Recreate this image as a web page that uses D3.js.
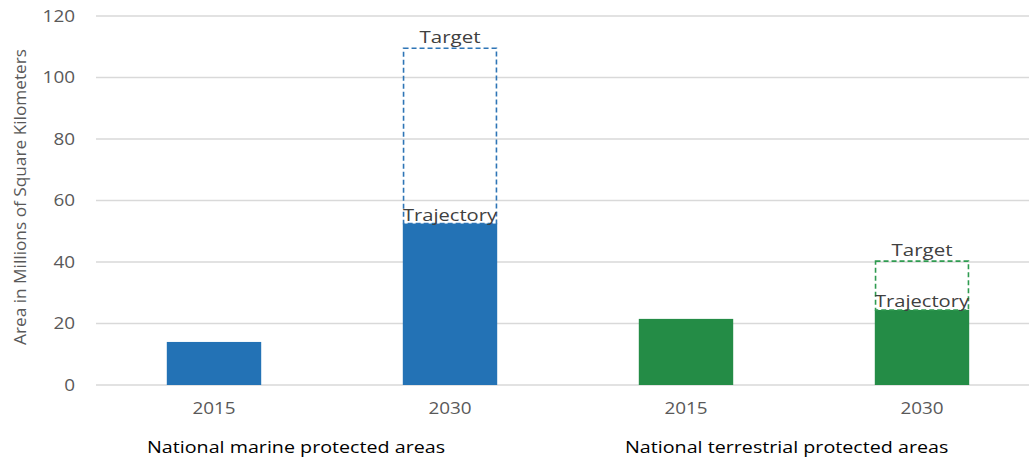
<!DOCTYPE html>
<html>
<head>
<meta charset="utf-8">
<script src="https://cdn.jsdelivr.net/npm/d3@7"></script>
<style>
  html, body { margin: 0; padding: 0; background: #fff; }
  svg { display: block; font-family: "Open Sans", "Noto Sans", sans-serif; }
</style>
</head>
<body>
<svg id="chart" width="1029" height="459"></svg>
<script>
// Protected area, millions of km²
const groups = ["National marine protected areas", "National terrestrial protected areas"];
const years = ["2015", "2030"];
const marineValues = [14, 52.5];
const terrestrialValues = [21.5, 24.4];
const marineTarget = 109.5;
const terrestrialTarget = 40.3;
const yTicks = [0, 20, 40, 60, 80, 100, 120];
const groupColors = ["#2372b5", "#248c46"];
const targetColors = ["#2e75b6", "#2f9b50"];

const bars = [
  { key: "m2015", group: 0, year: years[0], value: marineValues[0] },
  { key: "m2030", group: 0, year: years[1], value: marineValues[1], target: marineTarget },
  { key: "t2015", group: 1, year: years[0], value: terrestrialValues[0] },
  { key: "t2030", group: 1, year: years[1], value: terrestrialValues[1], target: terrestrialTarget }
];

// widen a text selection horizontally by a factor
function widen(sel, k) {
  sel.each(function () {
    const w = this.getComputedTextLength();
    d3.select(this).attr("textLength", w * k).attr("lengthAdjust", "spacingAndGlyphs");
  });
}

const svg = d3.select("#chart");
const x = d3.scaleBand().domain(bars.map(d => d.key)).range([96, 1040])
  .paddingInner(0.6).paddingOuter(0.3);
const y = d3.scaleLinear().domain([0, 120]).range([385, 16]);

// gridlines
svg.append("g").selectAll("line").data(yTicks).join("line")
  .attr("x1", 96).attr("x2", 1029)
  .attr("y1", d => y(d)).attr("y2", d => y(d))
  .attr("stroke", "#d9d9d9").attr("stroke-width", 1.3);

// y axis labels
const yAxis = svg.append("g").attr("transform", "translate(75,0)")
  .call(d3.axisLeft(y).tickValues(yTicks).tickSize(0).tickPadding(0));
yAxis.select(".domain").remove();
yAxis.selectAll("text").attr("fill", "#595959").attr("font-size", 16)
  .attr("font-family", "\"Open Sans\", sans-serif").call(widen, 1.18);

svg.append("text")
  .attr("transform", "translate(26,197) rotate(-90)")
  .attr("text-anchor", "middle").attr("fill", "#595959").attr("font-size", 17)
  .attr("font-family", "\"Open Sans\", sans-serif")
  .attr("textLength", 296).attr("lengthAdjust", "spacingAndGlyphs")
  .text("Area in Millions of Square Kilometers");

// bars
svg.append("g").selectAll("rect").data(bars).join("rect")
  .attr("x", d => x(d.key)).attr("width", x.bandwidth())
  .attr("y", d => y(d.value)).attr("height", d => y(0) - y(d.value))
  .attr("fill", d => groupColors[d.group]);

// target outlines
const withTarget = bars.filter(d => d.target != null);
svg.append("g").selectAll("rect").data(withTarget).join("rect")
  .attr("x", d => x(d.key) + 0.75).attr("width", x.bandwidth() - 1.5)
  .attr("y", d => y(d.target)).attr("height", d => y(d.value) - y(d.target))
  .attr("fill", "none").attr("stroke", d => targetColors[d.group])
  .attr("stroke-width", 1.6).attr("stroke-dasharray", "5,3");

const lbl = svg.append("g").attr("fill", "#404040").attr("font-size", 16.5)
  .attr("text-anchor", "middle");
lbl.selectAll("text.target").data(withTarget).join("text").attr("class", "target")
  .attr("x", d => x(d.key) + x.bandwidth() / 2).attr("y", d => y(d.target) - 5)
  .text("Target").call(widen, 1.24);
lbl.selectAll("text.traj").data(withTarget).join("text").attr("class", "traj")
  .attr("x", d => x(d.key) + x.bandwidth() / 2).attr("y", d => y(d.value) - 3)
  .text("Trajectory").call(widen, 1.22);

// year labels
svg.append("g").selectAll("text").data(bars).join("text")
  .attr("x", d => x(d.key) + x.bandwidth() / 2).attr("y", 414)
  .attr("text-anchor", "middle").attr("fill", "#595959").attr("font-size", 16)
  .text(d => d.year).call(widen, 1.18);

// group labels, set slightly left of each group's first bar
const groupLabelShift = [-67, -61];
svg.append("g").selectAll("text").data(groups).join("text")
  .attr("x", (d, i) => x(bars[i * 2].key) + x.bandwidth() / 2 + groupLabelShift[i])
  .attr("y", 453).attr("fill", "#000").attr("font-size", 15.5)
  .text(d => d).call(widen, 1.27);
</script>
</body>
</html>
